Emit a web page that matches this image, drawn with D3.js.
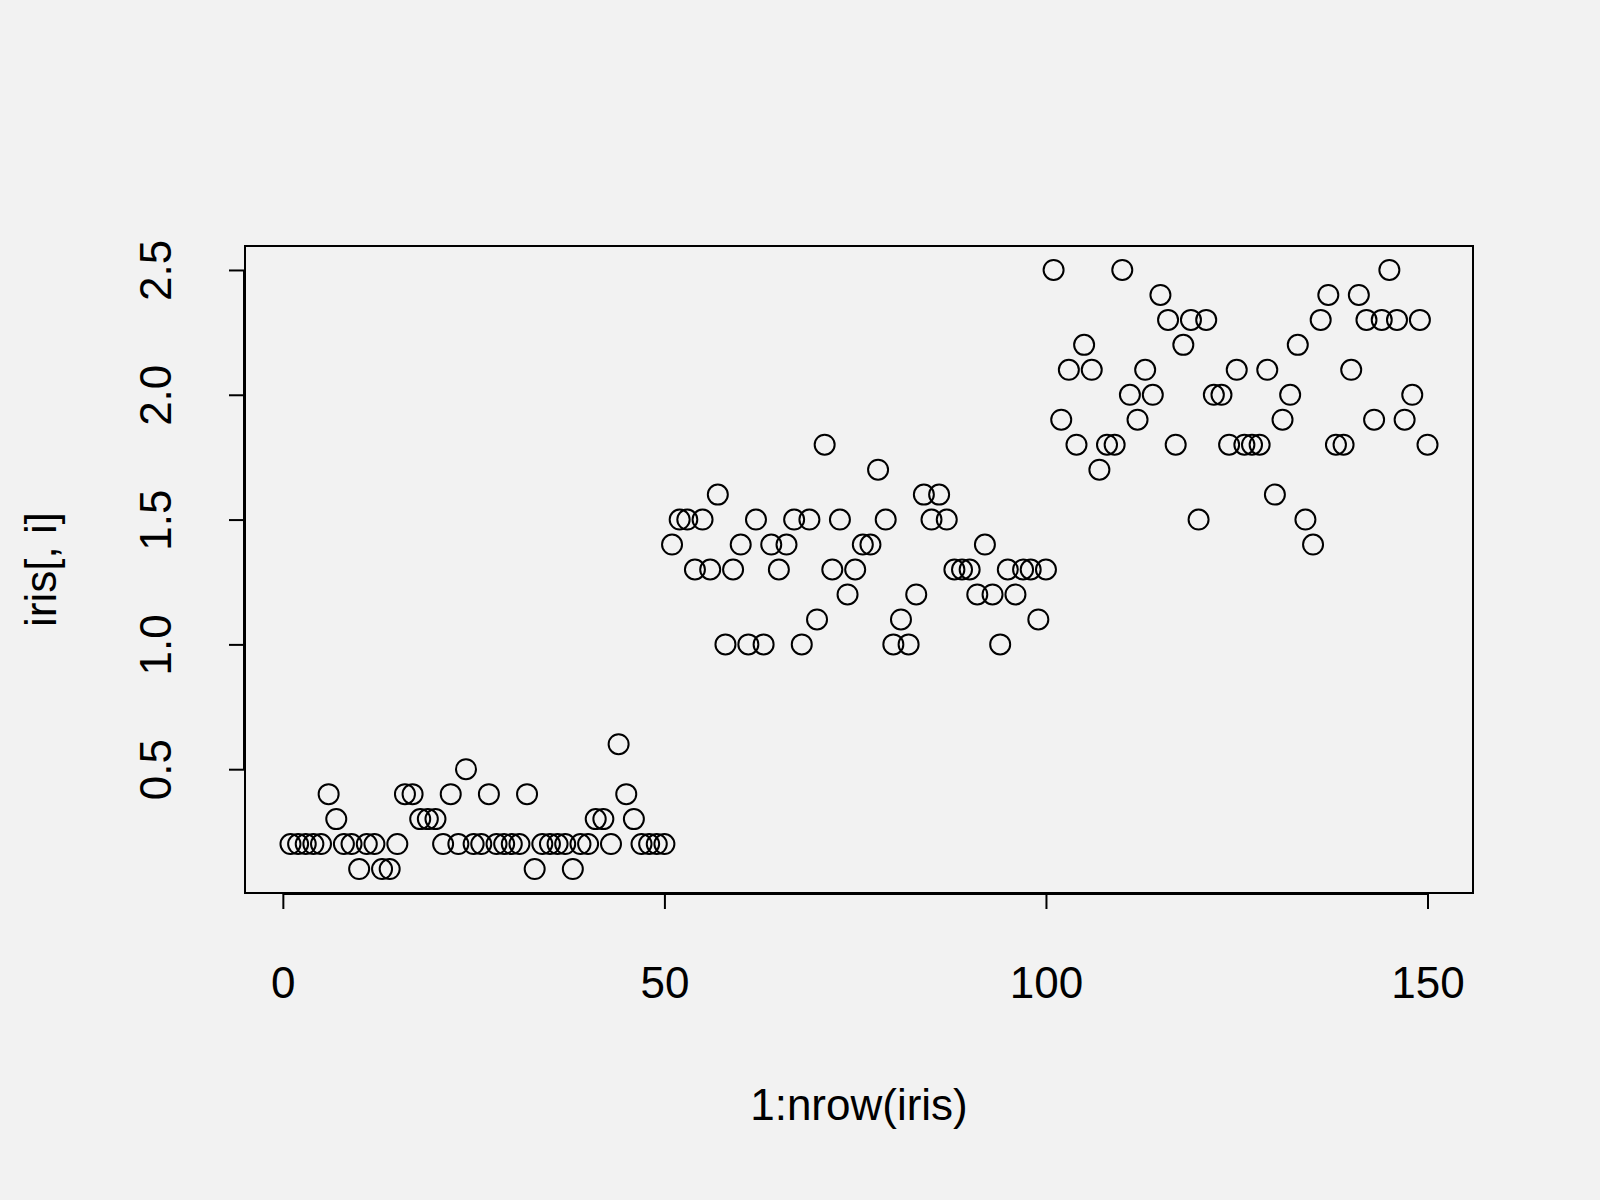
<!DOCTYPE html>
<html><head><meta charset="utf-8">
<script src="https://cdn.jsdelivr.net/npm/d3@7"></script>
<style>body{margin:0;background:#f2f2f2}</style>
</head><body><svg id="c"></svg>
<script>
// iris petal widths, rows 1..150
const setosa = [0.2,0.2,0.2,0.2,0.2,0.4,0.3,0.2,0.2,0.1,0.2,0.2,0.1,0.1,0.2,0.4,0.4,0.3,0.3,0.3,0.2,0.4,0.2,0.5,0.2,0.2,0.4,0.2,0.2,0.2,0.2,0.4,0.1,0.2,0.2,0.2,0.2,0.1,0.2,0.2,0.3,0.3,0.2,0.6,0.4,0.3,0.2,0.2,0.2,0.2];
const versicolor = [1.4,1.5,1.5,1.3,1.5,1.3,1.6,1.0,1.3,1.4,1.0,1.5,1.0,1.4,1.3,1.4,1.5,1.0,1.5,1.1,1.8,1.3,1.5,1.2,1.3,1.4,1.4,1.7,1.5,1.0,1.1,1.0,1.2,1.6,1.5,1.6,1.5,1.3,1.3,1.3,1.2,1.4,1.2,1.0,1.3,1.2,1.3,1.3,1.1,1.3];
const virginica = [2.5,1.9,2.1,1.8,2.2,2.1,1.7,1.8,1.8,2.5,2.0,1.9,2.1,2.0,2.4,2.3,1.8,2.2,2.3,1.5,2.3,2.0,2.0,1.8,2.1,1.8,1.8,1.8,2.1,1.6,1.9,2.0,2.2,1.5,1.4,2.3,2.4,1.8,1.8,2.1,2.4,2.3,1.9,2.3,2.5,2.3,1.9,2.0,2.3,1.8];
const xTicks = [0, 50, 100, 150];
const yTicks = [0.5, 1.0, 1.5, 2.0, 2.5];

const values = setosa.concat(versicolor, virginica);
const data = values.map((v, i) => ({x: i + 1, y: v}));

const W = 1600, H = 1200;
const box = {l: 245, r: 1473, t: 246, b: 893};
const svg = d3.select('#c').attr('width', W).attr('height', H)
  .style('font-family', 'Liberation Sans, Arial, sans-serif');
svg.append('rect').attr('width', W).attr('height', H).attr('fill', '#f2f2f2');

// R-style 4% padding on the data range
const xr = [1, 150], yr = [0.1, 2.5];
const px = (xr[1] - xr[0]) * 0.04, py = (yr[1] - yr[0]) * 0.04;
const x = d3.scaleLinear().domain([xr[0] - px, xr[1] + px]).range([box.l, box.r]);
const y = d3.scaleLinear().domain([yr[0] - py, yr[1] + py]).range([box.b, box.t]);

svg.append('rect').attr('x', box.l).attr('y', box.t)
  .attr('width', box.r - box.l).attr('height', box.b - box.t)
  .attr('fill', 'none').attr('stroke', '#000').attr('stroke-width', 2);

const xa = svg.append('g').attr('transform', `translate(0,${box.b + 1})`)
  .call(d3.axisBottom(x).tickValues(xTicks).tickSize(15).tickPadding(58).tickFormat(d3.format('d')));
xa.select('.domain').attr('d', `M${x(0)},0H${x(150)}`);

const ya = svg.append('g').attr('transform', `translate(${box.l - 1},0)`)
  .call(d3.axisLeft(y).tickValues(yTicks).tickSize(15).tickFormat(d3.format('.1f')));
ya.select('.domain').attr('d', `M0,${y(0.5)}V${y(2.5)}`);
ya.selectAll('.tick text').attr('x', null).attr('dy', null)
  .attr('transform', 'translate(-85,0) rotate(-90)').attr('text-anchor', 'middle')
  .attr('dominant-baseline', 'middle');

svg.selectAll('.domain, .tick line').attr('stroke', '#000').attr('stroke-width', 2);
svg.selectAll('.tick text').attr('font-size', 44).attr('fill', '#000')
  .attr('font-family', 'Liberation Sans, Arial, sans-serif');

svg.selectAll('circle.pt').data(data).join('circle').attr('class', 'pt')
  .attr('cx', d => x(d.x)).attr('cy', d => y(d.y)).attr('r', 10)
  .attr('fill', 'none').attr('stroke', '#000').attr('stroke-width', 2);

svg.append('text').attr('x', (box.l + box.r) / 2).attr('y', 1120)
  .attr('text-anchor', 'middle').attr('font-size', 44).text('1:nrow(iris)');
svg.append('text').attr('transform', `translate(56,${(box.t + box.b) / 2}) rotate(-90)`)
  .attr('text-anchor', 'middle').attr('font-size', 44).text('iris[, i]');
</script></body></html>
